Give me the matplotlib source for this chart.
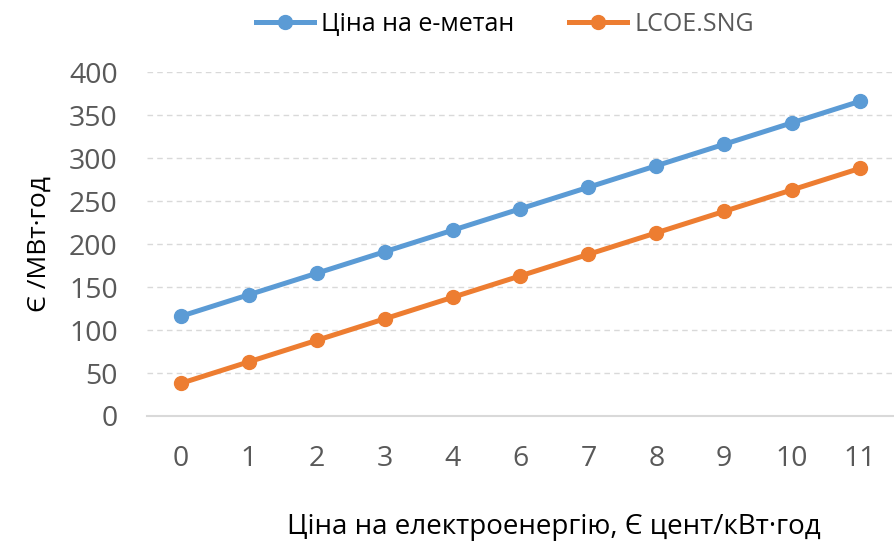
import matplotlib
matplotlib.use("Agg")
import matplotlib.pyplot as plt

categories = ["0", "1", "2", "3", "4", "6", "7", "8", "9", "10", "11"]
emethane_price = [116, 141, 166, 191, 216, 241, 266, 291, 316, 341, 366]
lcoe_sng = [38, 63, 88, 113, 138, 163, 188, 213, 238, 263, 288]
series_names = ["Ціна на е-метан", "LCOE.SNG"]
yticks = [0, 50, 100, 150, 200, 250, 300, 350, 400]

plt.rcParams['font.family'] = ['Open Sans', 'DejaVu Sans']

fig = plt.figure(figsize=(8.94, 5.44), dpi=100)
ax = fig.add_axes([0.1644, 0.2353, 0.8356, 0.6323])

x = list(range(len(categories)))
blue = "#5B9BD5"
orange = "#ED7D31"
l1, = ax.plot(x, emethane_price, color=blue, lw=3.6, marker='o', ms=10, label=series_names[0])
l2, = ax.plot(x, lcoe_sng, color=orange, lw=3.6, marker='o', ms=10, label=series_names[1])

ax.set_xlim(-0.5, len(categories) - 0.5)
ax.set_ylim(0, 400)
ax.set_yticks(yticks)
ax.set_xticks(x)
ax.set_xticklabels(categories)
ax.tick_params(axis='both', length=0, labelsize=20.5, labelcolor="#595959")
ax.tick_params(axis='x', pad=21)
ax.tick_params(axis='y', pad=21)

ax.grid(axis='y', color="#D9D9D9", linestyle=(0, (4, 3)), lw=1)
ax.set_axisbelow(True)
for s in ['top', 'right', 'left']:
    ax.spines[s].set_visible(False)
ax.spines['bottom'].set_color("#D9D9D9")
ax.spines['bottom'].set_linewidth(1.5)

ax.set_ylabel("Є /МВт·год", fontsize=19, color="black")
ax.yaxis.set_label_coords(-0.128, 0.5)
fig.text(0.620, 0.031, "Ціна на електроенергію, Є цент/кВт·год", fontsize=20,
         color="black", ha='center', va='center')

leg = fig.legend(handles=[l1, l2], loc='center', bbox_to_anchor=(0.565, 0.955), ncol=2,
                 frameon=False, fontsize=18, handlelength=2.3, columnspacing=2.2,
                 handletextpad=0.3)
leg.get_texts()[0].set_color("black")
leg.get_texts()[1].set_color("#595959")

fig.savefig("out.png", dpi=100)
